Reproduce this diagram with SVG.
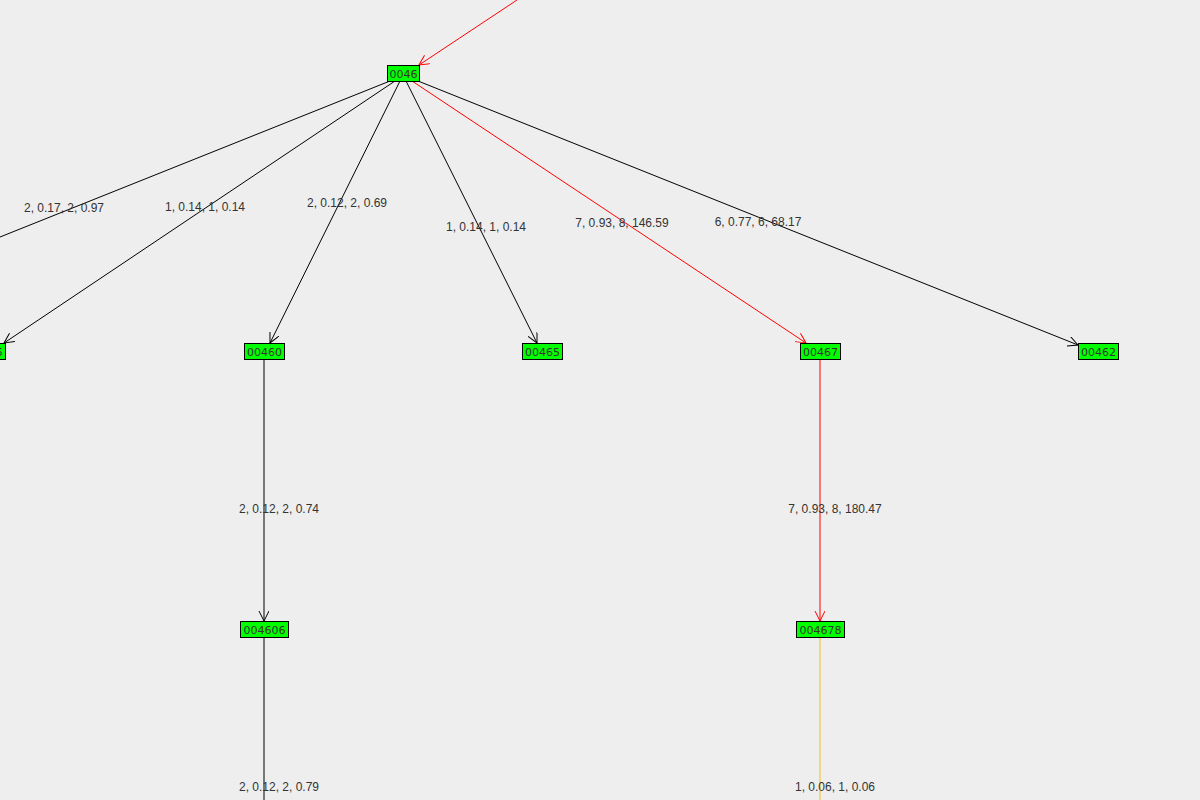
<svg xmlns="http://www.w3.org/2000/svg" width="1200" height="800" viewBox="0 0 1200 800">
<style>
.n rect{fill:#00ff00;stroke:#000;stroke-width:1}
.n text{font-family:"DejaVu Sans",sans-serif;font-size:11px;text-anchor:middle;fill:#333}
.l{font-family:"Liberation Sans",Arial,sans-serif;font-size:12px;text-anchor:middle;fill:#333}
.k{stroke:#000;fill:none}
.r{stroke:#f00;fill:none}
.y{stroke:#f0c020;fill:none}
</style>
<defs>
<marker id="ak" markerWidth="12" markerHeight="12" refX="10" refY="5" orient="auto" markerUnits="userSpaceOnUse"><path d="M0,0 L10,5 L0,10" fill="none" stroke="#000"/></marker>
<marker id="ar" markerWidth="12" markerHeight="12" refX="10" refY="5" orient="auto" markerUnits="userSpaceOnUse"><path d="M0,0 L10,5 L0,10" fill="none" stroke="#f00"/></marker>
</defs>
<rect width="1200" height="800" fill="#eeeeee"/>
<g id="connectors">
<line class="r" x1="517" y1="0" x2="419" y2="65" marker-end="url(#ar)"/>
<line class="k" x1="390" y1="81" x2="0" y2="237"/>
<line class="k" x1="395" y1="81" x2="4" y2="343" marker-end="url(#ak)"/>
<line class="k" x1="400" y1="81" x2="270" y2="343" marker-end="url(#ak)"/>
<line class="k" x1="406" y1="81" x2="537" y2="343" marker-end="url(#ak)"/>
<line class="r" x1="412" y1="81" x2="806" y2="343" marker-end="url(#ar)"/>
<line class="k" x1="418" y1="81" x2="1078" y2="345" marker-end="url(#ak)"/>
<line class="k" x1="264" y1="359" x2="264" y2="621" marker-end="url(#ak)"/>
<line class="r" x1="820" y1="359" x2="820" y2="621" marker-end="url(#ar)"/>
<line class="k" x1="264" y1="637" x2="264" y2="800"/>
<line class="y" x1="820" y1="637" x2="820" y2="800"/>
<text class="l" x="64" y="212">2, 0.17, 2, 0.97</text>
<text class="l" x="205" y="211">1, 0.14, 1, 0.14</text>
<text class="l" x="347" y="207">2, 0.12, 2, 0.69</text>
<text class="l" x="486" y="231">1, 0.14, 1, 0.14</text>
<text class="l" x="622" y="227">7, 0.93, 8, 146.59</text>
<text class="l" x="758" y="226">6, 0.77, 6, 68.17</text>
<text class="l" x="279" y="513">2, 0.12, 2, 0.74</text>
<text class="l" x="835" y="513">7, 0.93, 8, 180.47</text>
<text class="l" x="279" y="791">2, 0.12, 2, 0.79</text>
<text class="l" x="835" y="791">1, 0.06, 1, 0.06</text>
</g>
<g id="n0046" class="n"><rect x="387.5" y="65.5" width="32" height="16"/><text x="403.5" y="78">0046</text></g>
<g id="n00466" class="n"><rect x="-34.5" y="343.5" width="40" height="16"/><text x="-15" y="356">00466</text></g>
<g id="n00460" class="n"><rect x="244.5" y="343.5" width="40" height="16"/><text x="264.5" y="356">00460</text></g>
<g id="n00465" class="n"><rect x="522.5" y="343.5" width="40" height="16"/><text x="542.5" y="356">00465</text></g>
<g id="n00467" class="n"><rect x="800.5" y="343.5" width="40" height="16"/><text x="820.5" y="356">00467</text></g>
<g id="n00462" class="n"><rect x="1078.5" y="343.5" width="40" height="16"/><text x="1098.5" y="356">00462</text></g>
<g id="n004606" class="n"><rect x="240.5" y="621.5" width="48" height="16"/><text x="264.5" y="634">004606</text></g>
<g id="n004678" class="n"><rect x="796.5" y="621.5" width="48" height="16"/><text x="820.5" y="634">004678</text></g>
</svg>
